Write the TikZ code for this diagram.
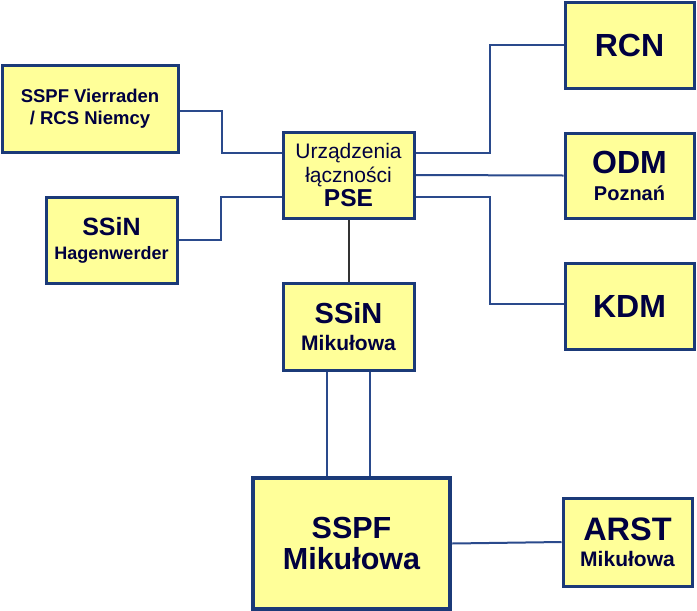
\documentclass[tikz,border=0pt]{standalone}
\usepackage{fontspec}
\setmainfont{Liberation Sans}
\usetikzlibrary{backgrounds}
\definecolor{boxfill}{HTML}{FFFF99}
\definecolor{boxline}{HTML}{1B3A78}
\definecolor{txt}{HTML}{000040}
\definecolor{conn}{HTML}{2A4A8C}
\definecolor{connd}{HTML}{333333}
\newcommand{\fs}[2]{\fontsize{#1}{#2}\selectfont}
\tikzset{
  box/.style={draw=boxline, fill=boxfill, line width=3pt, align=center, text=txt, inner sep=0pt},
  bigbox/.style={box, line width=4.5pt},
  link/.style={draw=conn, line width=2pt},
}
\begin{document}
\begin{tikzpicture}[x=1pt,y=-1pt]
\useasboundingbox (0,0) rectangle (697,611);
\node[box, minimum width=176pt, minimum height=87pt, font=\fs{18.5}{22}\bfseries] (vier) at (90,108.5)
  {SSPF Vierraden\\/ RCS Niemcy};
\node[box, minimum width=131pt, minimum height=86pt, font=\fs{18}{24}\bfseries] (hag) at (111.5,240)
  {{\fs{25}{25}SSiN}\\Hagenwerder};
\node[box, minimum width=131pt, minimum height=86pt, font=\fs{21}{24}] (pse) at (348.5,175)
  {Urządzenia\\łączności\\{\fs{24.5}{25}\bfseries PSE}};
\node[box, minimum width=129pt, minimum height=86pt, font=\fs{32}{32}\bfseries] (rcn) at (629.5,45)
  {RCN};
\node[box, minimum width=129pt, minimum height=85pt, font=\fs{20}{27}\bfseries] (odm) at (629.5,175.5)
  {{\fs{32}{32}ODM}\\Poznań};
\node[box, minimum width=129pt, minimum height=86pt, font=\fs{32}{32}\bfseries] (kdm) at (629.5,306)
  {KDM};
\node[box, minimum width=131pt, minimum height=87pt, font=\fs{21}{27}\bfseries] (ssinm) at (348.5,326.5)
  {{\fs{29}{29}SSiN}\\Mikułowa};
\node[bigbox, minimum width=197pt, minimum height=131pt, font=\fs{30.5}{31}\bfseries] (sspf) at (351.5,543.5)
  {SSPF\\Mikułowa};
\node[box, minimum width=129pt, minimum height=88pt, font=\fs{21}{26}\bfseries] (arst) at (627.5,542)
  {{\fs{32.5}{32}ARST}\\Mikułowa};
\begin{pgfonlayer}{background}
\draw[link] ([yshift=-2.5pt]vier.east) -- ++(42,0) |- ([yshift=22pt]pse.west);
\draw[link] (hag.east) -- ++(42,0) |- ([yshift=-22pt]pse.west);
\draw[link] ([yshift=22pt]pse.east) -- ++(74,0) |- (rcn.west);
\draw[link] (pse.east) -- (odm.west);
\draw[link] ([yshift=-22pt]pse.east) -- ++(74,0) |- ([yshift=2pt]kdm.west);
\draw[link, draw=connd] (pse.south) -- (ssinm.north);
\coordinate (d1) at ([xshift=-21.5pt]ssinm.south);
\coordinate (d2) at ([xshift=21.5pt]ssinm.south);
\draw[link] (d1) -- (d1 |- sspf.north);
\draw[link] (d2) -- (d2 |- sspf.north);
\draw[link] (sspf.east) -- (arst.west);
\end{pgfonlayer}
\end{tikzpicture}
\end{document}
